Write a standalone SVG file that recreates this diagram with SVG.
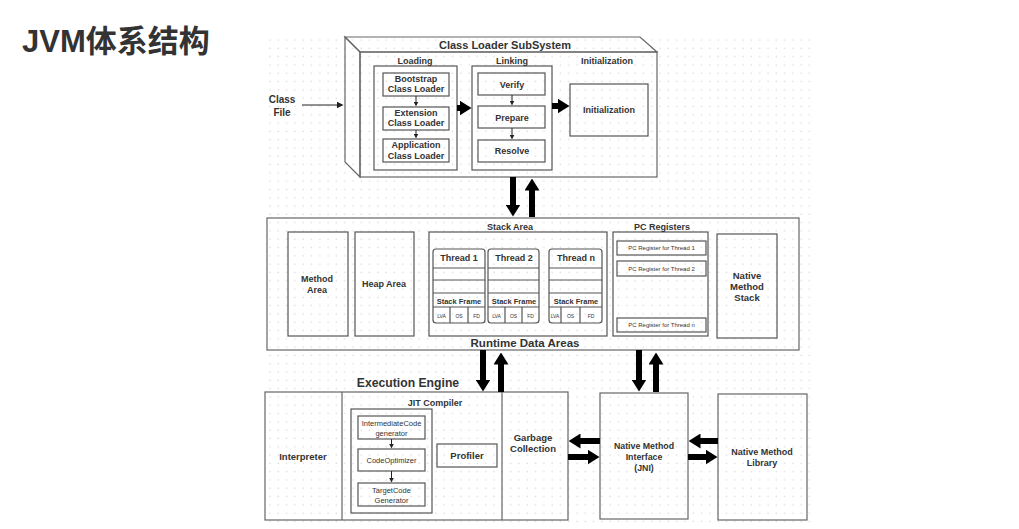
<svg xmlns="http://www.w3.org/2000/svg" width="1019" height="529" viewBox="0 0 1019 529">
<defs>
<pattern id="grid" x="266" y="36" width="8.3" height="8.3" patternUnits="userSpaceOnUse"><circle cx="4" cy="4" r="0.8" fill="#dcdcdc"/></pattern>
<marker id="big" viewBox="0 0 12 15" markerUnits="userSpaceOnUse" markerWidth="12" markerHeight="15" refX="0.5" refY="7.5" orient="auto"><path d="M0,0 L12,7.5 L0,15 z" fill="#000"/></marker>
<marker id="small" viewBox="0 0 6 6" markerUnits="userSpaceOnUse" markerWidth="5" markerHeight="5" refX="0.5" refY="3" orient="auto"><path d="M0,0 L6,3 L0,6 z" fill="#222"/></marker>
<marker id="mid" viewBox="0 0 8 8" markerUnits="userSpaceOnUse" markerWidth="7" markerHeight="7" refX="0.5" refY="4" orient="auto"><path d="M0,0 L8,4 L0,8 z" fill="#222"/></marker>
</defs>
<style>
.t{font-family:"Liberation Sans","Noto Sans",Arial,sans-serif;fill:#333;font-weight:bold;text-anchor:middle}
.r{font-weight:normal}
.b{fill:none;stroke:#555;stroke-width:1.2}
.o{fill:none;stroke:#666;stroke-width:1.2}
.thick{stroke:#000;stroke-width:6;fill:none;marker-end:url(#big)}
.thin{stroke:#222;stroke-width:1;fill:none;marker-end:url(#small)}
</style>
<rect width="1019" height="529" fill="#fff"/>
<rect x="266" y="36" width="544" height="490" fill="url(#grid)"/>
<text x="22" y="52" style="font-family:'Liberation Sans','Noto Sans CJK SC',sans-serif;font-weight:bold;font-size:31px;fill:#333">JVM体系结构</text>

<g id="classfile"><text class="t" x="282" y="103" font-size="10">Class</text><text class="t" x="282" y="116" font-size="10">File</text></g>

<g id="classloader">
<polygon class="o" points="345,37 640,37 657,52 360,52"/>
<polygon class="o" points="345,37 360,52 360,177 345,162"/>
<rect class="o" x="360" y="52" width="297" height="125"/>
<text class="t" x="505" y="49" font-size="11">Class Loader SubSystem</text>
</g>
<g id="loading">
<rect class="b" x="374" y="66" width="83" height="104"/>
<text class="t" x="415" y="64" font-size="9">Loading</text>
</g>
<g id="bootstrap"><rect class="b" x="383" y="73" width="66" height="23"/><text class="t" x="416" y="82" font-size="9">Bootstrap</text><text class="t" x="416" y="92" font-size="9">Class Loader</text></g>
<g id="extension"><rect class="b" x="383" y="107" width="66" height="23"/><text class="t" x="416" y="116" font-size="9">Extension</text><text class="t" x="416" y="126" font-size="9">Class Loader</text></g>
<g id="application"><rect class="b" x="383" y="139" width="66" height="23"/><text class="t" x="416" y="148" font-size="9">Application</text><text class="t" x="416" y="159" font-size="9">Class Loader</text></g>
<g id="linking">
<rect class="b" x="472" y="66" width="80" height="104"/>
<text class="t" x="512" y="64" font-size="9">Linking</text>
</g>
<g id="verify"><rect class="b" x="478" y="73" width="67" height="22"/><text class="t" x="512" y="88" font-size="9">Verify</text></g>
<g id="prepare"><rect class="b" x="478" y="106" width="67" height="22"/><text class="t" x="512" y="121" font-size="9">Prepare</text></g>
<g id="resolve"><rect class="b" x="478" y="140" width="67" height="22"/><text class="t" x="512" y="154" font-size="9">Resolve</text></g>
<g id="initialization">
<text class="t" x="607" y="64" font-size="9">Initialization</text>
<rect class="b" x="570" y="84" width="78" height="52"/>
<text class="t" x="609" y="113" font-size="9">Initialization</text>
</g>

<g id="runtime">
<rect class="o" x="267" y="218" width="532" height="132"/>
<text class="t" x="525" y="347" font-size="11.5">Runtime Data Areas</text>
</g>
<g id="method"><rect class="b" x="288" y="232" width="60" height="104"/><text class="t" x="317" y="282" font-size="9">Method</text><text class="t" x="317" y="293" font-size="9">Area</text></g>
<g id="heap"><rect class="b" x="355" y="232" width="59" height="104"/><text class="t" x="384" y="287" font-size="9">Heap Area</text></g>
<g id="stackarea">
<rect class="b" x="429" y="232" width="178" height="104"/>
<text class="t" x="510" y="230" font-size="9">Stack Area</text>
</g>
<g id="thread1">
<rect class="b" x="433" y="249" width="52" height="74" rx="3"/>
<path class="b" d="M433,268H485M433,280H485M433,293H485M433,307H485M450,307V323M468,307V323"/>
<text class="t" x="459" y="261" font-size="9">Thread 1</text>
<text class="t" x="459" y="304" font-size="7.5">Stack Frame</text>
<text class="t r" x="441.5" y="318" font-size="5">LVA</text><text class="t r" x="459" y="318" font-size="5">OS</text><text class="t r" x="476.5" y="318" font-size="5">FD</text>
</g>
<g id="thread2">
<rect class="b" x="488" y="249" width="51" height="74" rx="3"/>
<path class="b" d="M488,268H539M488,280H539M488,293H539M488,307H539M505,307V323M522,307V323"/>
<text class="t" x="514" y="261" font-size="9">Thread 2</text>
<text class="t" x="514" y="304" font-size="7.5">Stack Frame</text>
<text class="t r" x="496.5" y="318" font-size="5">LVA</text><text class="t r" x="513.5" y="318" font-size="5">OS</text><text class="t r" x="530.5" y="318" font-size="5">FD</text>
</g>
<g id="threadn">
<rect class="b" x="549" y="249" width="53" height="74" rx="3"/>
<path class="b" d="M549,268H602M549,280H602M549,293H602M549,307H602M561,307V323M580,307V323"/>
<text class="t" x="576" y="261" font-size="9">Thread n</text>
<text class="t" x="576" y="304" font-size="7.5">Stack Frame</text>
<text class="t r" x="555" y="318" font-size="5">LVA</text><text class="t r" x="570.5" y="318" font-size="5">OS</text><text class="t r" x="591" y="318" font-size="5">FD</text>
</g>
<g id="pcregisters">
<rect class="b" x="613" y="232" width="95" height="104"/>
<text class="t" x="662" y="230" font-size="9">PC Registers</text>
<rect class="b" x="617" y="241" width="89" height="14"/><text class="t r" x="661.5" y="250" font-size="6">PC Register for Thread 1</text>
<rect class="b" x="617" y="261" width="89" height="15"/><text class="t r" x="661.5" y="271" font-size="6">PC Register for Thread 2</text>
<rect class="b" x="617" y="318" width="89" height="14"/><text class="t r" x="661.5" y="327" font-size="6">PC Register for Thread n</text>
</g>
<g id="nativestack"><rect class="b" x="717" y="234" width="60" height="104"/><text class="t" x="747" y="279" font-size="9.5">Native</text><text class="t" x="747" y="290" font-size="9.5">Method</text><text class="t" x="747" y="301" font-size="9.5">Stack</text></g>

<g id="execution">
<text class="t" x="408" y="387" font-size="12.2">Execution Engine</text>
<rect class="o" x="265" y="392" width="303" height="128"/>
<path class="o" d="M342,392V520M502,392V520"/>
</g>
<g id="interpreter"><text class="t" x="303" y="460" font-size="9.5">Interpreter</text></g>
<g id="jit">
<text class="t" x="435" y="406" font-size="9">JIT Compiler</text>
<rect class="b" x="351" y="409" width="81" height="104"/>
</g>
<g id="intermediate"><rect class="b" x="358" y="416" width="67" height="23"/><text class="t r" x="391.5" y="426" font-size="7.5">IntermediateCode</text><text class="t r" x="391.5" y="436" font-size="7.5">generator</text></g>
<g id="optimizer"><rect class="b" x="358" y="449" width="67" height="22"/><text class="t r" x="391.5" y="463" font-size="7.5">CodeOptimizer</text></g>
<g id="target"><rect class="b" x="358" y="483" width="67" height="23"/><text class="t r" x="391.5" y="493" font-size="7.5">TargetCode</text><text class="t r" x="391.5" y="503" font-size="7.5">Generator</text></g>
<g id="profiler"><rect class="b" x="437" y="444" width="60" height="23"/><text class="t" x="467" y="459" font-size="9.5">Profiler</text></g>
<g id="gc"><text class="t" x="533" y="441" font-size="9.5">Garbage</text><text class="t" x="533" y="452" font-size="9.5">Collection</text></g>
<g id="jni"><rect class="o" x="600" y="393" width="88" height="126"/><text class="t" x="644" y="449" font-size="8.8">Native Method</text><text class="t" x="644" y="460" font-size="8.8">Interface</text><text class="t" x="644" y="471" font-size="8.8">(JNI)</text></g>
<g id="nativelib"><rect class="o" x="718" y="394" width="89" height="126"/><text class="t" x="762" y="455" font-size="9">Native Method</text><text class="t" x="762" y="466" font-size="9">Library</text></g>

<g id="connectors">
<line class="thin" x1="302" y1="105" x2="337" y2="105" style="marker-end:url(#mid)"/>
<line class="thin" x1="416" y1="96" x2="416" y2="102"/>
<line class="thin" x1="416" y1="130" x2="416" y2="134"/>
<line class="thin" x1="512" y1="95" x2="512" y2="101"/>
<line class="thin" x1="512" y1="128" x2="512" y2="135"/>
<line class="thin" x1="391.5" y1="439" x2="391.5" y2="444"/>
<line class="thin" x1="391.5" y1="471" x2="391.5" y2="478"/>
<line class="thick" x1="457" y1="108" x2="460" y2="108"/>
<line class="thick" x1="552" y1="106" x2="558" y2="106"/>
<line class="thick" x1="513" y1="177" x2="513" y2="205"/>
<line class="thick" x1="532" y1="217" x2="532" y2="190"/>
<line class="thick" x1="483" y1="350" x2="483" y2="380"/>
<line class="thick" x1="501" y1="392" x2="501" y2="364"/>
<line class="thick" x1="639" y1="350" x2="639" y2="380"/>
<line class="thick" x1="656" y1="392" x2="656" y2="364"/>
<line class="thick" x1="600" y1="441" x2="580" y2="441"/>
<line class="thick" x1="568" y1="457" x2="588" y2="457"/>
<line class="thick" x1="718" y1="441" x2="700" y2="441"/>
<line class="thick" x1="688" y1="457" x2="706" y2="457"/>
</g>
</svg>
